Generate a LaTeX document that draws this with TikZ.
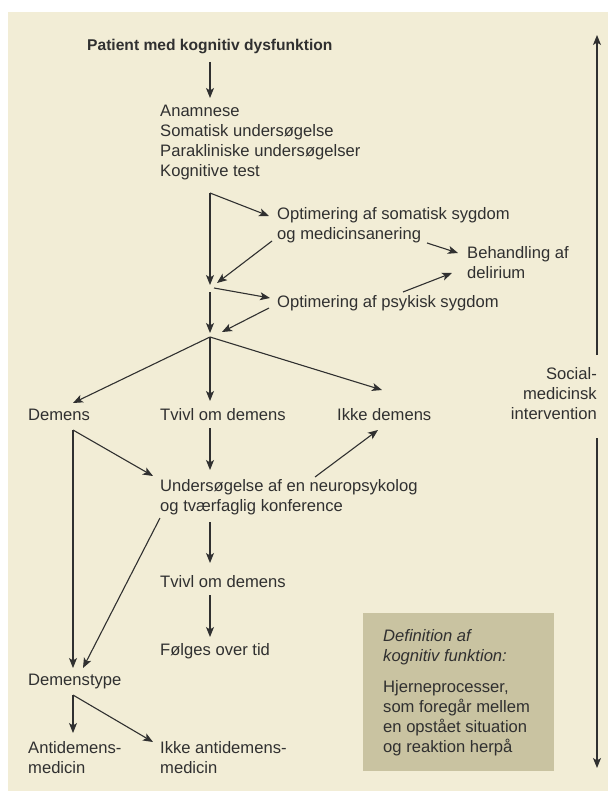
\documentclass[tikz,border=0pt]{standalone}
\usepackage{fontspec}
\setmainfont{Liberation Sans}
\usetikzlibrary{arrows.meta}
\definecolor{bg}{HTML}{F2EDD6}
\definecolor{boxc}{HTML}{C9C3A1}
\definecolor{ink}{HTML}{303030}
\newcommand{\fsz}{\fontsize{16.6}{20}\selectfont}
\newcommand{\fszb}{\fontsize{15.6}{20}\selectfont}
\begin{document}
\begin{tikzpicture}[x=1pt,y=-1pt,
  lbl/.style={inner sep=0pt, anchor=west, align=left, font=\fsz, text=ink},
  arr/.style={draw=ink, line width=1.1pt, -{Stealth[length=10pt,width=8pt,inset=2.5pt]}},
  ln/.style={draw=ink, line width=1.1pt}]
\useasboundingbox (0,0) rectangle (608,791);
\fill[white] (0,0) rectangle (608,791);
\fill[bg] (8,12) rectangle (608,791);
% grey definition box
\node[fill=boxc, inner sep=0pt, minimum width=191pt, minimum height=158pt, anchor=north west] (def) at (363,613) {};
\node[lbl, font=\itshape\fsz] (defh) at (383,647) {Definition af\\kognitiv funktion:};
\node[lbl] (deft) at (383,718) {Hjerneprocesser,\\som foregår mellem\\en opstået situation\\og reaktion herpå};
% text nodes
\node[lbl, font=\bfseries\fszb] (p) at (87,47) {Patient med kognitiv dysfunktion};
\node[lbl] (a) at (160,143) {Anamnese\\Somatisk undersøgelse\\Parakliniske undersøgelser\\Kognitive test};
\node[lbl] (os) at (277,225) {Optimering af somatisk sygdom\\og medicinsanering};
\node[lbl] (bd) at (467,263) {Behandling af\\delirium};
\node[lbl] (op) at (277,303) {Optimering af psykisk sygdom};
\node[lbl] (dem) at (28,415) {Demens};
\node[lbl] (tv) at (160,415) {Tvivl om demens};
\node[lbl] (ik) at (337,415) {Ikke demens};
\node[lbl, anchor=east, align=right] (soc) at (597,394) {Social-\\medicinsk\\intervention};
\node[lbl] (us) at (160,497) {Undersøgelse af en neuropsykolog\\og tværfaglig konference};
\node[lbl] (tv2) at (160,582) {Tvivl om demens};
\node[lbl] (fo) at (160,651) {Følges over tid};
\node[lbl] (dt) at (28,682) {Demenstype};
\node[lbl] (ad) at (28,757.5) {Antidemens-\\medicin};
\node[lbl] (iad) at (160,757.5) {Ikke antidemens-\\medicin};
% coordinates
\coordinate (c1) at (210,62); \coordinate (c2) at (210,98);
\coordinate (j1) at (210,193);
\coordinate (m1) at (210,285); \coordinate (os1) at (269,216);
\coordinate (os2) at (272,241); \coordinate (m1b) at (217,283);
\coordinate (m2s) at (214,288); \coordinate (op1) at (270,298);
\coordinate (m2a) at (210,292); \coordinate (m2) at (210,333);
\coordinate (op2) at (269,308); \coordinate (m2b) at (222,332);
\coordinate (os3) at (427,243); \coordinate (bd1) at (458,253);
\coordinate (op3) at (403,292); \coordinate (bd2) at (452,273);
\coordinate (j2) at (210,337);
\coordinate (dem1) at (73,403); \coordinate (tv1) at (210,401); \coordinate (ik1) at (382,390);
\coordinate (j3) at (73,430);
\coordinate (dt1) at (73,668); \coordinate (us1) at (153,476);
\coordinate (tv3) at (210,428); \coordinate (us2) at (210,470);
\coordinate (us3) at (315,477); \coordinate (ik2) at (378,430);
\coordinate (us4) at (160,518); \coordinate (dt2) at (83,668);
\coordinate (us5) at (210,522); \coordinate (tv4) at (210,563);
\coordinate (tv5) at (210,595); \coordinate (fo1) at (210,637);
\coordinate (j4) at (73,695);
\coordinate (ad1) at (73,733); \coordinate (iad1) at (153,742);
\coordinate (r1) at (597,355); \coordinate (r2) at (597,35);
\coordinate (r3) at (597,438); \coordinate (r4) at (597,768);
% connectors
\draw[arr] (c1) -- (c2);
\draw[arr] (j1) -- (m1);
\draw[arr] (j1) -- (os1);
\draw[arr] (os2) -- (m1b);
\draw[arr] (m2s) -- (op1);
\draw[arr] (m2a) -- (m2);
\draw[arr] (op2) -- (m2b);
\draw[arr] (os3) -- (bd1);
\draw[arr] (op3) -- (bd2);
\draw[arr] (j2) -- (dem1);
\draw[arr] (j2) -- (tv1);
\draw[arr] (j2) -- (ik1);
\draw[arr] (j3) -- (dt1);
\draw[arr] (j3) -- (us1);
\draw[arr] (tv3) -- (us2);
\draw[arr] (us3) -- (ik2);
\draw[arr] (us4) -- (dt2);
\draw[arr] (us5) -- (tv4);
\draw[arr] (tv5) -- (fo1);
\draw[arr] (j4) -- (ad1);
\draw[arr] (j4) -- (iad1);
\draw[arr] (r1) -- (r2);
\draw[arr] (r3) -- (r4);
\end{tikzpicture}
\end{document}
